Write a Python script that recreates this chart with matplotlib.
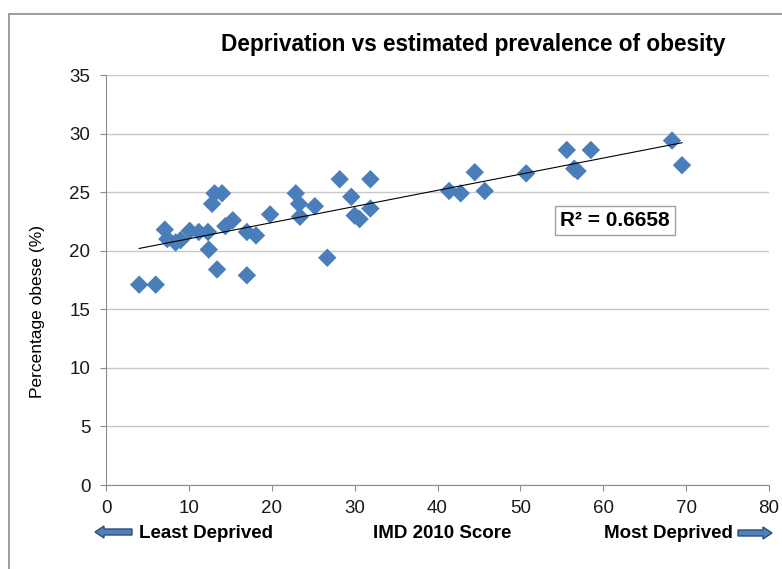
import numpy as np
import matplotlib
matplotlib.use("Agg")
import matplotlib.pyplot as plt
from matplotlib.patches import FancyArrow, Rectangle

plt.rcParams['font.family'] = ['Liberation Sans', 'DejaVu Sans']

imd_score = [4.0, 6.0, 7.1, 7.4, 8.4, 9.0, 10.1, 11.2, 12.3, 12.4, 12.8, 13.1, 13.4, 14.0,
             14.4, 15.3, 17.0, 17.0, 18.1, 19.8, 22.9, 23.3, 23.4, 25.2, 26.7, 28.2, 29.6,
             30.0, 30.6, 31.9, 31.9, 41.4, 42.8, 44.5, 45.7, 50.7, 55.6, 56.5, 56.9, 58.5,
             68.3, 69.5]
obese_pct = [17.1, 17.1, 21.8, 21.0, 20.7, 20.9, 21.7, 21.6, 21.6, 20.1, 24.0, 24.9, 18.4, 24.9,
             22.1, 22.6, 21.6, 17.9, 21.3, 23.1, 24.9, 24.0, 22.9, 23.8, 19.4, 26.1, 24.6,
             23.0, 22.7, 23.6, 26.1, 25.1, 24.9, 26.7, 25.1, 26.6, 28.6, 27.0, 26.8, 28.6,
             29.4, 27.3]
r2_label = "R² = 0.6658"
title = "Deprivation vs estimated prevalence of obesity"
y_label = "Percentage obese (%)"
x_labels = ["Least Deprived", "IMD 2010 Score", "Most Deprived"]
x_ticks = list(range(0, 81, 10))
y_ticks = list(range(0, 36, 5))

W, H = 782, 569
fig = plt.figure(figsize=(W / 100, H / 100), dpi=100)
fig.patch.set_facecolor('white')

# outer chart border
fig.add_artist(Rectangle((9 / W, -0.05), 1.2, (H - 14) / H + 0.05, transform=fig.transFigure,
                         fill=False, edgecolor='#8c8c8c', linewidth=1.2))

ax = fig.add_axes([106 / W, 1 - 485 / H, (769 - 106) / W, (485 - 75) / H])
ax.set_xlim(0, 80)
ax.set_ylim(0, 35)
ax.set_xticks(x_ticks)
ax.set_yticks(y_ticks)
ax.grid(axis='y', color='#c8c8c8', linewidth=1)
ax.set_axisbelow(True)
for s in ['top', 'right']:
    ax.spines[s].set_visible(False)
for s in ['left', 'bottom']:
    ax.spines[s].set_color('#8c8c8c')
ax.tick_params(direction='out', length=4.3, color='#8c8c8c', labelsize=13.5, labelcolor='#1a1a1a')
ax.tick_params(axis='y', pad=7)
ax.tick_params(axis='x', pad=6.5)

x = np.array(imd_score)
y = np.array(obese_pct)
ax.scatter(x, y, marker='D', s=88, color='#4a7ebb', edgecolors='none', zorder=3)
m, b = np.polyfit(x, y, 1)
xx = np.array([x.min(), x.max()])
ax.plot(xx, m * xx + b, color='black', linewidth=0.8, zorder=4)

ax.text(61.4, 22.6, r2_label, fontsize=15, fontweight='bold', ha='center', va='center',
        bbox=dict(boxstyle='square,pad=0.25', facecolor='white', edgecolor='#a0a0a0'), zorder=5)

fig.text(473 / W, 1 - 45 / H, title, fontsize=16.3, fontweight='bold', ha='center', va='center')
fig.text(38 / W, 1 - 312 / H, y_label, fontsize=12.5, rotation=90, ha='center', va='center')

fig.text(139 / W, 1 - 538 / H, x_labels[0], fontsize=13.5, fontweight='bold', ha='left', va='baseline')
fig.text(442 / W, 1 - 538 / H, x_labels[1], fontsize=13.5, fontweight='bold', ha='center', va='baseline')
fig.text(733 / W, 1 - 538 / H, x_labels[2], fontsize=13.5, fontweight='bold', ha='right', va='baseline')

def arrow(x0, x1, yc):
    fig.add_artist(FancyArrow(x0 / W, 1 - yc / H, (x1 - x0) / W, 0, width=6 / H,
                              head_width=12 / H, head_length=9 / W, length_includes_head=True,
                              transform=fig.transFigure, facecolor='#4f81bd', edgecolor='#2c4d75',
                              linewidth=1))

arrow(132, 95, 532)
arrow(738, 772, 533)

fig.savefig('out.png', dpi=100)
